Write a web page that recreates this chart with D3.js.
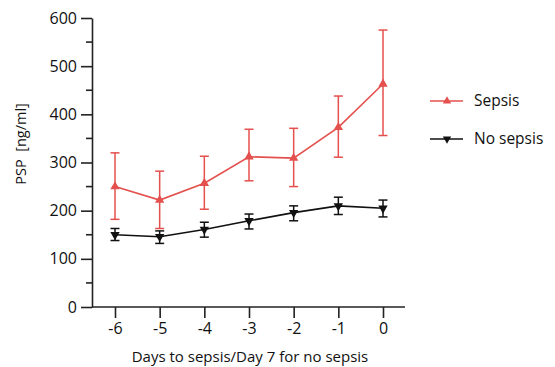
<!DOCTYPE html>
<html>
<head>
<meta charset="utf-8">
<script src="https://cdn.jsdelivr.net/npm/d3@7"></script>
<style>
  body { margin: 0; background: #fff; }
  text { font-family: "Open Sans", sans-serif; fill: #111; }
</style>
</head>
<body>
<div id="chart"></div>
<script>
//Chart values.
var days = [-6, -5, -4, -3, -2, -1, 0];
var sepsisMid = [250, 222, 257, 312, 309, 373, 463];
var sepsisHigh = [320, 282, 313, 369, 371, 438, 575];
var sepsisLow = [182, 163, 203, 262, 250, 311, 356];
var noSepsisMid = [150, 146, 161, 179, 196, 210, 205];
var noSepsisHigh = [163, 158, 176, 193, 210, 228, 222];
var noSepsisLow = [138, 132, 145, 162, 179, 192, 187];
var yTicks = [0, 100, 200, 300, 400, 500, 600];
var yMinorTicks = [50, 150, 250, 350, 450, 550];
var seriesNames = ["Sepsis", "No sepsis"];

var svgWidth = 555;
var svgHeight = 367;

var svg = d3.select("#chart")
  .append("svg")
  .attr("width", svgWidth)
  .attr("height", svgHeight);

//Scales: plot area is set by where the axes sit.
var xScale = d3.scaleLinear().domain([-6, 0]).range([115, 383]);
var yScale = d3.scaleLinear().domain([0, 600]).range([307, 18]);

var axisX0 = 92;
var axisX1 = 405;

//Left axis with major ticks.
var leftAxis = d3.axisLeft(yScale)
  .tickValues(yTicks)
  .tickSize(11)
  .tickPadding(4)
  .tickSizeOuter(0);

var gy = svg.append("g")
  .attr("transform", "translate(" + axisX0 + ",0)")
  .call(leftAxis);
gy.select(".domain").attr("stroke", "#222").attr("stroke-width", 1.6);
gy.selectAll(".tick line").attr("stroke", "#222").attr("stroke-width", 1.6);
gy.selectAll(".tick text").style("font-size", "16px");

//Minor ticks at the 50s.
svg.append("g")
  .selectAll("line")
  .data(yMinorTicks)
  .enter().append("line")
  .attr("x1", axisX0 - 6)
  .attr("x2", axisX0)
  .attr("y1", function(d) { return yScale(d); })
  .attr("y2", function(d) { return yScale(d); })
  .attr("stroke", "#222")
  .attr("stroke-width", 1.6);

//Bottom axis.
var bottomAxis = d3.axisBottom(xScale)
  .tickValues(days)
  .tickFormat(d3.format("d"))
  .tickSize(11)
  .tickPadding(5)
  .tickSizeOuter(0);

var gx = svg.append("g")
  .attr("transform", "translate(0," + yScale(0) + ")")
  .call(bottomAxis);
gx.select(".domain").remove();
gx.append("line")
  .attr("x1", axisX0)
  .attr("x2", axisX1)
  .attr("stroke", "#222")
  .attr("stroke-width", 1.6);
gx.selectAll(".tick line").attr("stroke", "#222").attr("stroke-width", 1.6);
gx.selectAll(".tick text").style("font-size", "16px")
  .text(function(d) { return d < 0 ? "-" + Math.abs(d) : d; });

//Axis titles.
svg.append("text")
  .attr("x", 250)
  .attr("y", 362)
  .attr("text-anchor", "middle")
  .style("font-size", "15px")
  .text("Days to sepsis/Day 7 for no sepsis");

svg.append("text")
  .attr("transform", "translate(26,144) rotate(-90)")
  .attr("text-anchor", "middle")
  .style("font-size", "14.5px")
  .text("PSP\u00a0\u00a0[ng/ml]");

//Draw one series: error bars, line, markers.
function drawSeries(mid, low, high, color, up) {
  var g = svg.append("g");
  var rows = days.map(function(d, i) {
    return { day: d, mid: mid[i], low: low[i], high: high[i] };
  });

  var bars = g.selectAll(".err").data(rows).enter().append("g");
  bars.append("line")
    .attr("x1", function(d) { return xScale(d.day); })
    .attr("x2", function(d) { return xScale(d.day); })
    .attr("y1", function(d) { return yScale(d.low); })
    .attr("y2", function(d) { return yScale(d.high); });
  bars.append("line")
    .attr("x1", function(d) { return xScale(d.day) - 4.5; })
    .attr("x2", function(d) { return xScale(d.day) + 4.5; })
    .attr("y1", function(d) { return yScale(d.high); })
    .attr("y2", function(d) { return yScale(d.high); });
  bars.append("line")
    .attr("x1", function(d) { return xScale(d.day) - 4.5; })
    .attr("x2", function(d) { return xScale(d.day) + 4.5; })
    .attr("y1", function(d) { return yScale(d.low); })
    .attr("y2", function(d) { return yScale(d.low); });
  bars.selectAll("line").attr("stroke", color).attr("stroke-width", 1.5);

  var line = d3.line()
    .x(function(d) { return xScale(d.day); })
    .y(function(d) { return yScale(d.mid); });
  g.append("path")
    .datum(rows)
    .attr("d", line)
    .attr("fill", "none")
    .attr("stroke", color)
    .attr("stroke-width", 1.6);

  var sym = d3.symbol().type(d3.symbolTriangle).size(38);
  g.selectAll(".mark").data(rows).enter().append("path")
    .attr("d", sym)
    .attr("transform", function(d) {
      return "translate(" + xScale(d.day) + "," + yScale(d.mid) + ")" + (up ? "" : " rotate(180)");
    })
    .attr("fill", color);
}

var red = "#e4504d";
var black = "#111";
drawSeries(sepsisMid, sepsisLow, sepsisHigh, red, true);
drawSeries(noSepsisMid, noSepsisLow, noSepsisHigh, black, false);

//Legend.
var legendRows = [
  { name: seriesNames[0], color: red, up: true, y: 101 },
  { name: seriesNames[1], color: black, up: false, y: 139 }
];
var legend = svg.append("g");
legendRows.forEach(function(r) {
  legend.append("line")
    .attr("x1", 430).attr("x2", 463)
    .attr("y1", r.y).attr("y2", r.y)
    .attr("stroke", r.color).attr("stroke-width", 1.6);
  legend.append("path")
    .attr("d", d3.symbol().type(d3.symbolTriangle).size(30))
    .attr("transform", "translate(447," + r.y + ")" + (r.up ? "" : " rotate(180)"))
    .attr("fill", r.color);
  legend.append("text")
    .attr("x", 474)
    .attr("y", r.y)
    .attr("dy", "0.35em")
    .style("font-size", "15.5px")
    .text(r.name);
});
</script>
</body>
</html>
